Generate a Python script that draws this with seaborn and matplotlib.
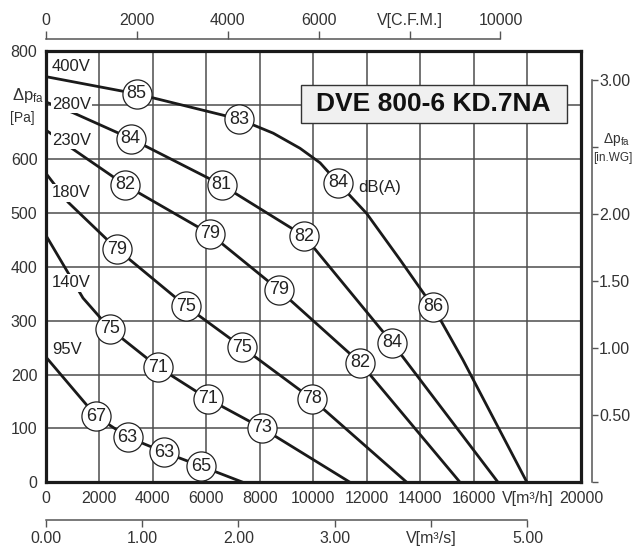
import matplotlib
matplotlib.use("Agg")
import matplotlib.pyplot as plt
import matplotlib.patches as mpatches
import seaborn as sns

# fan curves per supply voltage: V [m3/h] vs dp_fa [Pa]
v400_x = [0, 3400, 7230, 8500, 9500, 10250, 10920, 11990, 13240, 14470, 15590, 17980]
v400_y = [753, 721, 674, 648, 620, 593, 556, 499, 413, 326, 227, 0]
v280_x = [0, 1020, 3175, 6575, 9660, 12940, 16900]
v280_y = [706, 686, 638, 552, 457, 259, 0]
v230_x = [0, 971, 2960, 6140, 8715, 11740, 15480]
v230_y = [654, 620, 552, 461, 357, 222, 0]
v180_x = [0, 833, 2660, 5240, 7330, 9940, 13490]
v180_y = [574, 520, 433, 327, 251, 155, 0]
v140_x = [0, 1393, 2400, 4195, 6060, 8070, 11370]
v140_y = [459, 342, 285, 214, 155, 101, 0]
v95_x = [0, 1880, 3060, 4420, 5800, 7370]
v95_y = [233, 123, 84, 56, 30, 0]

# sound level markers dB(A) sitting on the curves
db_x = [3400, 7230, 10920, 14470,
        3175, 6575, 9660, 12940,
        2960, 6140, 8715, 11740,
        2660, 5240, 7330, 9940,
        2400, 4195, 6060, 8070,
        1880, 3060, 4420, 5800]
db_y = [721, 674, 556, 326,
        638, 552, 457, 259,
        552, 461, 357, 222,
        433, 327, 251, 155,
        285, 214, 155, 101,
        123, 84, 56, 30]
db_txt = ["85", "83", "84", "86",
          "84", "81", "82", "84",
          "82", "79", "79", "82",
          "79", "75", "75", "78",
          "75", "71", "71", "73",
          "67", "63", "63", "65"]

volt_names = ["400V", "280V", "230V", "180V", "140V", "95V"]
volt_lab_y = [771, 702, 635, 537, 370, 246]

x_ticks = list(range(0, 20001, 2000))
x_labels = ["0", "2000", "4000", "6000", "8000", "10000", "12000", "14000", "16000", "V[m³/h]", "20000"]
y_ticks = list(range(0, 801, 100))
y_labels = ["0", "100", "200", "300", "400", "500", "600", "", "800"]
cfm_ticks = [0, 2000, 4000, 6000, 8000, 10000]
cfm_labels = ["0", "2000", "4000", "6000", "V[C.F.M.]", "10000"]
m3s_ticks = [0, 1, 2, 3, 4, 5]
m3s_labels = ["0.00", "1.00", "2.00", "3.00", "V[m³/s]", "5.00"]
inwg_ticks = [0, 0.5, 1.0, 1.5, 2.0, 2.5, 3.0]
inwg_labels = ["", "0.50", "1.00", "1.50", "2.00", "", "3.00"]

sns.set_style("white")
plt.rcParams["font.family"] = ["Liberation Sans", "DejaVu Sans"]
plt.rcParams["mathtext.fontset"] = "custom"
plt.rcParams["mathtext.rm"] = "Liberation Sans"
plt.rcParams["mathtext.it"] = "Liberation Sans:italic"
plt.rcParams["mathtext.bf"] = "Liberation Sans:bold"

fig = plt.figure(figsize=(6.43, 5.48), dpi=100)
ax = fig.add_axes([0.0711, 0.1199, 0.8325, 0.7865])

ink = "#1a1a1a"
txt = "#333333"

curves = [(v400_x, v400_y), (v280_x, v280_y), (v230_x, v230_y),
          (v180_x, v180_y), (v140_x, v140_y), (v95_x, v95_y)]
for xs, ys in curves:
    sns.lineplot(x=xs, y=ys, ax=ax, color=ink, linewidth=2.0, sort=False,
                 estimator=None, zorder=3)

sns.scatterplot(x=db_x, y=db_y, ax=ax, s=440, marker="o", color="white",
                edgecolor="#222222", linewidth=0.9, zorder=4, legend=False)
for x, y, t in zip(db_x, db_y, db_txt):
    ax.text(x, y, t, ha="center", va="center", fontsize=13, color="#222222", zorder=5)

for name, y in zip(volt_names, volt_lab_y):
    ax.text(235, y, name, ha="left", va="center", fontsize=12, color="#222222", zorder=3.5,
            bbox=dict(boxstyle="square,pad=0.08", fc="white", ec="none"))

ax.text(11670, 548, "dB(A)", ha="left", va="center", fontsize=12, color="#222222", zorder=5)

# model name box
ax.add_patch(mpatches.Rectangle((9525, 667), 9935, 70, facecolor="#f0f0f0",
                                edgecolor="#333333", linewidth=1.0, zorder=5))
ax.text(14490, 703, "DVE 800-6 KD.7NA", ha="center", va="center", fontsize=19,
        fontweight="bold", color="#111111", zorder=6)

ax.set_xlim(0, 20000)
ax.set_ylim(0, 800)
ax.set_xticks(x_ticks)
ax.set_xticklabels(x_labels)
ax.set_yticks(y_ticks)
ax.set_yticklabels(y_labels)
ax.grid(True, color="#4d4d4d", linewidth=1.1)
ax.set_axisbelow(True)
ax.tick_params(axis="both", length=0, pad=6, labelsize=11.5, labelcolor=txt)
for s in ax.spines.values():
    s.set_visible(True)
    s.set_color(ink)
    s.set_linewidth(2.3)
ax.set_xlabel("")
ax.set_ylabel("")

# axis name on the left
ax.text(-1259, 709, r"Δ$\mathrm{p}_{\mathrm{fa}}$", ha="left", va="baseline",
        fontsize=12, color=txt, clip_on=False)
ax.text(-1334, 676, "[Pa]", ha="left", va="center", fontsize=10, color=txt, clip_on=False)

# secondary scales
top = ax.secondary_xaxis(1.0285, functions=(lambda v: v * 0.588578, lambda c: c / 0.588578))
top.set_xticks(cfm_ticks)
top.set_xticklabels(cfm_labels)
top.xaxis.set_ticks_position("top")
top.tick_params(axis="x", which="major", top=True, direction="out", length=6,
                width=1, color="#555555", pad=2, labelsize=11.5, labelcolor=txt)
top.spines["top"].set_bounds(0, 10000)
top.spines["top"].set_color("#555555")
top.spines["top"].set_linewidth(1.1)

bot = ax.secondary_xaxis(-0.0875, functions=(lambda v: v / 3600.0, lambda s: s * 3600.0))
bot.set_xticks(m3s_ticks)
bot.set_xticklabels(m3s_labels)
bot.xaxis.set_ticks_position("bottom")
bot.tick_params(axis="x", which="major", bottom=True, direction="out", length=5,
                width=1, color="#555555", pad=3, labelsize=11.5, labelcolor=txt)
bot.spines["bottom"].set_bounds(0, 5)
bot.spines["bottom"].set_color("#555555")
bot.spines["bottom"].set_linewidth(1.1)

rgt = ax.secondary_yaxis(1.0206, functions=(lambda p: p / 249.09, lambda w: w * 249.09))
rgt.set_yticks(inwg_ticks)
rgt.set_yticklabels(inwg_labels)
rgt.yaxis.set_ticks_position("right")
rgt.tick_params(axis="y", which="major", right=True, direction="out", length=4,
                width=1, color="#555555", pad=1, labelsize=11.5, labelcolor=txt)
rgt.spines["right"].set_bounds(0, 3)
rgt.spines["right"].set_color("#555555")
rgt.spines["right"].set_linewidth(1.1)

ax.text(20820, 630, r"Δ$\mathrm{p}_{\mathrm{fa}}$", ha="left", va="baseline",
        fontsize=10, color=txt, clip_on=False)
ax.text(20450, 602, "[in.WG]", ha="left", va="center", fontsize=8.5, color=txt, clip_on=False)

fig.savefig("out.png", dpi=100)
